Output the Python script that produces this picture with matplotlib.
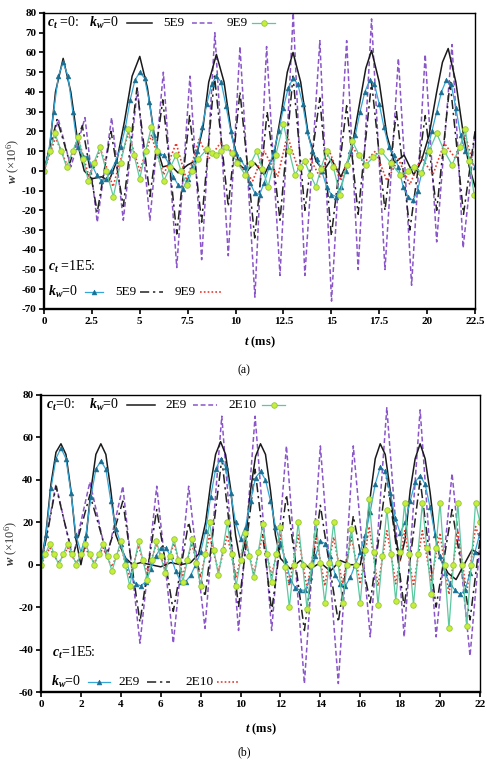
import numpy as np
import matplotlib
matplotlib.use('Agg')
import matplotlib.pyplot as plt
from matplotlib.lines import Line2D

plt.rcParams['font.family'] = ['Liberation Serif', 'DejaVu Serif']
plt.rcParams['mathtext.fontset'] = 'custom'
plt.rcParams['mathtext.rm'] = 'Liberation Serif'
plt.rcParams['mathtext.it'] = 'Liberation Serif:italic'
plt.rcParams['mathtext.bf'] = 'Liberation Serif:italic:bold'

# ---------------- panel (a) ----------------
# ct=0, kw=0 (black solid)
a_t_k0_c0 = [0, 0.3, 0.6, 1.0, 1.4, 1.8, 2.1, 2.5, 3.0, 3.4, 3.8, 4.2, 4.6, 5.0, 5.4, 5.8, 6.2, 6.6, 7.0, 7.5,
             7.9, 8.3, 8.6, 9.0, 9.4, 9.8, 10.2, 10.6, 11.0, 11.5, 12.0, 12.4, 12.7, 13.0, 13.4, 13.8, 14.2, 14.6,
             15.0, 15.5, 16.0, 16.4, 16.8, 17.1, 17.5, 17.9, 18.3, 18.8, 19.3, 19.7, 20.1, 20.5, 20.8, 21.1, 21.5,
             21.9, 22.2, 22.5]
a_w_k0_c0 = [0, 12, 40, 57, 40, 12, 0, -4, -3, -5, 5, 25, 48, 58, 42, 15, 2, 3, -1, 3,
             5, 22, 45, 59, 45, 18, 3, 0, 4, -2, 8, 30, 50, 60, 45, 18, 5, 0,
             6, -3, 8, 30, 52, 61, 45, 18, 4, 8, -2, 5, 18, 40, 55, 62, 45,
             18, 2, -8]

# ct=0, kw=5E9 (purple dashed)
a_t_5e9_c0 = [0, 0.38, 0.75, 1.08, 1.4, 1.77, 2.14, 2.46, 2.78, 3.15, 3.53, 3.84, 4.14, 4.51, 4.88, 5.2, 5.53,
              5.88, 6.23, 6.58, 6.93, 7.28, 7.62, 7.93, 8.23, 8.58, 8.92, 9.27, 9.62, 9.93, 10.23, 10.62, 11.01,
              11.32, 11.62, 11.97, 12.32, 12.67, 13.01, 13.32, 13.62, 14.01, 14.4, 14.7, 15.01, 15.4, 15.8, 16.1,
              16.4, 16.75, 17.1, 17.45, 17.8, 18.15, 18.5, 18.85, 19.19, 19.55, 19.9, 20.2, 20.5, 20.9, 21.3,
              21.6, 21.88, 22.2, 22.5]
a_w_5e9_c0 = [0, 13, 26, 14, 2, 14, 27, 0, -26, 0, 27, 1, -25, 8, 42, 8, -25,
              12, 50, 0, -49, 0, 48, 1, -45, 12, 70, 13, -43, 10, 63, 0, -64,
              0, 63, 5, -53, 13, 80, 13, -53, 6, 66, 0, -66, 0, 66, 8,
              -50, 13, 77, 13, -50, 3, 57, 0, -58, 0, 59, 11, -36, 14, 64,
              12, -39, -10, 20]

# ct=0, kw=9E9 (green circles)
a_t_9e9_c0 = [0, 0.3, 0.57, 0.9, 1.18, 1.5, 1.79, 2.05, 2.31, 2.6, 2.92, 3.25, 3.62, 4.0, 4.4, 4.7, 5.0, 5.3,
              5.6, 5.9, 6.25, 6.6, 6.9, 7.15, 7.45, 7.75, 8.05, 8.5, 8.75, 9.0, 9.25, 9.5, 9.8, 10.1, 10.5, 10.8,
              11.1, 11.4, 11.7, 12.1, 12.5, 12.8, 13.1, 13.35, 13.6, 13.9, 14.2, 14.45, 14.75, 15.1, 15.45, 15.8,
              16.1, 16.45, 16.8, 17.2, 17.6, 18.1, 18.6, 19.0, 19.3, 19.7, 20.1, 20.5, 20.9, 21.3, 21.7, 22.0,
              22.2, 22.45]
a_w_9e9_c0 = [0, 10, 19, 10, 2, 10, 17, 6, -5, 4, 12, 0, -13, 4, 21, 8, -4, 10,
              22, 10, -5, 2, 8, 0, -7, 0, 6, 11, 9, 8, 10, 12, 9, 4, -2, 4,
              10, 1, -8, 8, 24, 10, -2, 2, 5, -2, -8, 1, 10, 2, -12, 3,
              15, 8, 3, 7, 10, 4, -2, 0, 2, -1, 10, 19, 10, 3, 12, 21,
              5, -12]

# ct=1E5, kw=0 (blue triangles), every 0.25 ms
a_w_k0_c1 = [0, 10, 30, 48, 55, 48, 30, 12, 8, 7,
             3, -2, -5, -4, 0, 5, 12, 22, 36, 46,
             50, 47, 35, 18, 9, 8, 4, -3, -7, -9,
             -4, 2, 10, 22, 34, 44, 48, 45, 33, 20,
             9, 6, 2, -6, -11, -12, -6, 2, 10, 20,
             32, 42, 47, 44, 34, 20, 10, 6, 0, -8,
             -12, -13, -8, 0, 10, 18, 30, 40, 46, 44,
             34, 22, 12, 8, 2, -8, -13, -15, -10, 0,
             10, 20, 30, 40, 46, 44, 32, 18, 10, 6,
             2]
a_t_k0_c1 = np.arange(len(a_w_k0_c1)) * 0.25

# ct=1E5, kw=5E9 (black dash-dot)
a_t_5e9_c1 = [0, 0.34, 0.68, 1.02, 1.35, 1.68, 2.0, 2.39, 2.78, 3.14, 3.5, 3.82, 4.14, 4.5, 4.85, 5.19, 5.53,
              5.87, 6.2, 6.57, 6.93, 7.27, 7.6, 7.92, 8.23, 8.57, 8.9, 9.26, 9.62, 9.93, 10.23, 10.62, 11.0,
              11.33, 11.65, 11.99, 12.32, 12.66, 13.0, 13.31, 13.62, 14.01, 14.4, 14.7, 15.0, 15.4, 15.8, 16.1,
              16.4, 16.75, 17.1, 17.45, 17.8, 18.1, 18.4, 18.75, 19.1, 19.5, 19.9, 20.2, 20.5, 20.85, 21.2,
              21.55, 21.9, 22.2, 22.5]
a_w_5e9_c1 = [0, 13, 26, 15, 4, 14, 23, 1, -21, 0, 20, 1, -18, 12, 42, 15, -13,
              12, 36, 2, -32, -2, 28, 1, -26, 11, 48, 15, -18, 11, 40, 3, -34,
              -2, 30, 3, -25, 12, 48, 14, -20, 9, 37, 2, -33, 0, 33, 6,
              -22, 12, 45, 13, -20, 5, 30, 0, -30, -1, 28, 4, -20, 12, 45,
              12, -22, -1, 20]

# ct=1E5, kw=9E9 (red dotted)
a_t_9e9_c1 = [0, 0.6, 1.2, 1.8, 2.35, 2.95, 3.6, 4.4, 5.0, 5.6, 6.25, 6.9, 7.45, 8.1, 8.6, 9.2, 9.8, 10.3,
              10.9, 11.5, 12.2, 12.7, 13.3, 13.9, 14.4, 14.9, 15.5, 16.1, 16.7, 17.3, 17.9, 18.5, 19.1, 19.7,
              20.3, 20.9, 21.5, 22.0, 22.5]
a_w_9e9_c1 = [0, 17, 3, 16, -3, 11, -8, 19, 0, 18, -2, 14, -5, 16, 6, 14, 10, 2,
              -5, 10, -3, 18, 0, 6, -3, 10, -5, 12, 4, 10, -5, 6, -7, 7,
              -2, 14, 6, 18, 0]

a_xticks = [0, 2.5, 5, 7.5, 10, 12.5, 15, 17.5, 20, 22.5]
a_xtick_labels = ['0', '2.5', '5', '7.5', '10', '12.5', '15', '17.5', '20', '22.5']
a_yticks = [-70, -60, -50, -40, -30, -20, -10, 0, 10, 20, 30, 40, 50, 60, 70, 80]

# ---------------- panel (b) ----------------
b_t_k0_c0 = [0, 0.25, 0.5, 0.75, 1.0, 1.25, 1.5, 1.75, 2.0, 2.25, 2.5, 2.75, 3.0, 3.25, 3.5, 3.75, 4.0, 4.25,
             4.6, 5.0, 5.5, 6.0, 6.5, 7.0, 7.5, 7.9, 8.25, 8.5, 8.75, 9.0, 9.25, 9.5, 9.75, 10.0, 10.25, 10.5,
             10.75, 11.0, 11.25, 11.5, 11.75, 12.0, 12.5, 13.0, 13.5, 14.0, 14.5, 15.0, 15.5, 16.0, 16.25,
             16.5, 16.75, 17.0, 17.25, 17.5, 17.75, 18.0, 18.25, 18.5, 18.75, 19.0, 19.25, 19.5, 19.75, 20.0,
             20.4, 20.8, 21.2, 21.6, 22.0]
b_w_k0_c0 = [0, 15, 38, 53, 57, 52, 35, 12, 0, 12, 35, 52, 57, 52, 35, 14, 8, 3,
             0, 1, 0, -1, 1, 0, 1, 5, 20, 38, 52, 58, 52, 36, 14, 1, 12, 35,
             51, 57, 52, 35, 14, 3, -2, 2, -2, 1, -3, 2, 0, 0, 12,
             32, 50, 57, 52, 35, 14, 2, 12, 35, 50, 57, 50, 34, 14, 3,
             -4, -7, 0, 7, 5]

b_t_2e9 = [0, 0.38, 0.75, 1.18, 1.6, 2.02, 2.45, 2.88, 3.3, 3.7, 4.1, 4.53, 4.96, 5.38, 5.8, 6.22, 6.63, 7.02,
           7.4, 7.81, 8.22, 8.64, 9.06, 9.48, 9.9, 10.32, 10.73, 11.15, 11.56, 11.93, 12.3, 12.75, 13.2, 13.6,
           14.0, 14.45, 14.9, 15.28, 15.65, 16.08, 16.5, 16.92, 17.33, 17.77, 18.2, 18.6, 19.0, 19.4, 19.8,
           20.2, 20.6, 21.05, 21.5, 21.75, 22.0]
b_w_2e9_c0 = [0, 19, 38, 20, 3, 21, 39, 21, 3, 20, 37, 0, -37, 0, 37, 0, -37, 0,
              37, 3, -30, 20, 70, 19, -31, 19, 70, 19, -31, 12, 56, 0, -56, 0,
              56, 0, -56, 0, 56, 11, -34, 20, 74, 20, -34, 19, 73, 19, -34,
              4, 43, 0, -43, -16, 10]
b_w_2e9_c1 = [0, 18, 37, 20, 4, 18, 33, 19, 5, 17, 30, 1, -27, 0, 26, 2, -22, -1,
              20, 2, -15, 17, 50, 15, -20, 12, 45, 11, -22, 5, 33, 1, -31, -1,
              28, 0, -27, -2, 23, 2, -18, 12, 42, 11, -20, 10, 40, 10, -20,
              3, 26, 0, -26, -7, 12]

# kw=2E10 series, 100 samples over 0-22 ms
b_w_2e10_c0 = [0, 5, 10, 5, 0, 5, 10, 5, 0, 5, 10, 5, 0, 5, 10, 4, -3, 4, 11, 0,
               -10, 0, 11, 2, -7, 2, 11, 4, -4, 4, 12, 2, -8, 2, 12, 1, -10, 5, 20, 7,
               -5, 7, 20, 5, -10, 2, 15, 4, -6, 6, 19, 5, -8, 5, 18, -1, -20, 0, 20, 0,
               -21, 0, 20, 1, -18, 1, 20, 1, -18, 0, 17, 0, -18, 7, 31, 6, -19, 4, 26, 5,
               -17, 6, 29, 5, -19, 5, 29, 8, -14, 8, 29, 0, -30, 0, 29, 0, -29, 0, 29, 20]
b_w_2e10_c1 = [0, 4, 8, 4, 1, 4, 8, 4, 1, 4, 8, 4, 1, 4, 8, 3, -1, 4, 9, 1,
               -6, 1, 9, 2, -4, 3, 10, 4, -2, 4, 10, 2, -5, 2, 10, 2, -6, 4, 14, 5,
               -3, 5, 14, 4, -6, 3, 13, 4, -4, 5, 14, 4, -5, 4, 14, 2, -10, 2, 14, 1,
               -11, 1, 13, 2, -10, 2, 13, 2, -9, 2, 13, 2, -9, 4, 18, 4, -10, 3, 16, 4,
               -9, 3, 16, 3, -10, 3, 16, 4, -8, 4, 15, 0, -14, 1, 16, 1, -13, 2, 18, 12]
b_t_2e10 = np.linspace(0, 22, len(b_w_2e10_c0))

b_w_k0_c1 = [0, 14, 36, 50, 55, 50, 34, 14, 6, 14,
             32, 45, 49, 45, 30, 17, 10, 2, -5, -9,
             -10, -8, -2, 4, 8, 8, 4, -3, -8, -8,
             -5, 0, 6, 16, 32, 45, 50, 46, 34, 20,
             12, 18, 30, 41, 44, 40, 30, 18, 10, 2,
             -7, -11, -12, -12, -6, 4, 11, 10, 4, -5,
             -9, -10, -6, 0, 6, 14, 25, 38, 46, 44,
             34, 22, 15, 20, 30, 39, 42, 38, 27, 14,
             4, -4, -9, -12, -14, -12, -4, 6, 15]
b_t_k0_c1 = np.arange(len(b_w_k0_c1)) * 0.25

b_xticks = [0, 2, 4, 6, 8, 10, 12, 14, 16, 18, 20, 22]
b_xtick_labels = [str(v) for v in b_xticks]
b_yticks = [-60, -40, -20, 0, 20, 40, 60, 80]

# ---------------- styles ----------------
STY = {
    'k0_c0': dict(color='#1a1a1a', lw=1.1, ls='-'),
    'mid_c0': dict(color='#8a55c9', lw=1.1, ls=(0, (3.2, 1.8))),
    'hi_c0': dict(color='#5cc8a0', lw=0.9, marker='o', ms=4, mfc='#c6ee3a', mec='#93c83a', mew=0.6),
    'k0_c1': dict(color='#35a7d6', lw=0.9, marker='^', ms=3.5, mfc='#1d6f91', mec='#1d6f91', mew=0.4),
    'mid_c1': dict(color='#222222', lw=1.1, ls=(0, (6, 2.5, 1.5, 2.5))),
    'hi_c1': dict(color='#e53b2f', lw=1.2, ls=(0, (1, 1.3))),
}

W, H = 487, 764
fig = plt.figure(figsize=(W / 100, H / 100), dpi=100)


def fx(x):
    return x / W


def fy(y):
    return 1 - y / H


def draw_panel(ax, series, xlim, ylim, xticks, xlabels, yticks):
    for key in ['mid_c0', 'mid_c1', 'k0_c0', 'hi_c1', 'k0_c1', 'hi_c0']:
        t, w = series[key]
        ax.plot(t, w, **STY[key])
    ax.set_xlim(*xlim)
    ax.set_ylim(*ylim)
    ax.set_xticks(xticks)
    ax.set_xticklabels(xlabels, fontweight='bold')
    ax.set_yticks(yticks)
    ax.set_yticklabels([str(v) for v in yticks], fontweight='bold')
    ax.tick_params(direction='out', length=3.5, width=1.2, labelsize=8, pad=2)
    for side in ['left', 'bottom']:
        ax.spines[side].set_linewidth(1.7)
    for side in ['top', 'right']:
        ax.spines[side].set_linewidth(1.0)
    ax.set_xlabel(r'$\mathbf{t}$ (ms)', fontsize=9, fontweight='bold')
    ax.set_ylabel(r'$\mathbf{w}$ (×$\mathrm{10}^{6}$)', fontsize=9, color='#333333')


def sample(x0, x1, y, key):
    st = dict(STY[key])
    marker = st.pop('marker', None)
    ms = st.pop('ms', None)
    mfc = st.pop('mfc', None)
    mec = st.pop('mec', None)
    mew = st.pop('mew', None)
    fig.add_artist(Line2D([fx(x0), fx(x1)], [fy(y), fy(y)], transform=fig.transFigure, **st))
    if marker:
        fig.add_artist(Line2D([fx((x0 + x1) / 2)], [fy(y)], transform=fig.transFigure, ls='none',
                              marker=marker, ms=ms, mfc=mfc, mec=mec, mew=mew))


def label(x, y, s, size=9.5):
    fig.text(fx(x), fy(y), s, fontsize=size, ha='left', va='center')


CT = r'$\mathbf{c}_{\mathbf{t}}$'
KW = r'$\mathbf{k}_{\mathbf{w}}$'

# panel (a)
ax_a = fig.add_axes([fx(44), fy(309), (475 - 44) / W, (309 - 13) / H])
draw_panel(ax_a, {
    'k0_c0': (a_t_k0_c0, a_w_k0_c0), 'mid_c0': (a_t_5e9_c0, a_w_5e9_c0), 'hi_c0': (a_t_9e9_c0, a_w_9e9_c0),
    'k0_c1': (a_t_k0_c1, a_w_k0_c1), 'mid_c1': (a_t_5e9_c1, a_w_5e9_c1), 'hi_c1': (a_t_9e9_c1, a_w_9e9_c1),
}, (0, 22.5), (-70, 80), a_xticks, a_xtick_labels, a_yticks)
ax_a.xaxis.set_label_coords(0.5, -0.085)
ax_a.yaxis.set_label_coords(-0.052, 0.5)

label(47, 23, CT + ' =0:', 10)
label(89, 23, KW + '=0', 10)
sample(127, 152, 23, 'k0_c0')
label(163, 23, '5E9')
sample(192, 215, 23, 'mid_c0')
label(227, 23, '9E9')
sample(252, 275, 23, 'hi_c0')

label(48, 267, CT + ' =1E5:', 10)
label(48, 292, KW + '=0', 10)
sample(85, 103, 292, 'k0_c1')
label(115, 292, '5E9')
sample(140, 163, 292, 'mid_c1')
label(175, 292, '9E9')
sample(200, 222, 292, 'hi_c1')

fig.text(fx(244), fy(370), '(a)', fontsize=8.5, ha='center', va='center')

# panel (b)
ax_b = fig.add_axes([fx(41), fy(692), (480 - 41) / W, (692 - 395) / H])
draw_panel(ax_b, {
    'k0_c0': (b_t_k0_c0, b_w_k0_c0), 'mid_c0': (b_t_2e9, b_w_2e9_c0), 'hi_c0': (b_t_2e10, b_w_2e10_c0),
    'k0_c1': (b_t_k0_c1, b_w_k0_c1), 'mid_c1': (b_t_2e9, b_w_2e9_c1), 'hi_c1': (b_t_2e10, b_w_2e10_c1),
}, (0, 22), (-60, 80), b_xticks, b_xtick_labels, b_yticks)
ax_b.xaxis.set_label_coords(0.5, -0.1)
ax_b.yaxis.set_label_coords(-0.047, 0.5)

label(46, 405, CT + '=0:', 10)
label(89, 405, KW + '=0', 10)
sample(127, 155, 405, 'k0_c0')
label(165, 405, '2E9')
sample(193, 217, 405, 'mid_c0')
label(228, 405, '2E10')
sample(262, 285, 405, 'hi_c0')

label(52, 653, CT + '=1E5:', 10)
label(51, 682, KW + '=0', 10)
sample(88, 110, 682, 'k0_c1')
label(118, 682, '2E9')
sample(147, 170, 682, 'mid_c1')
label(185, 682, '2E10')
sample(217, 238, 682, 'hi_c1')

fig.text(fx(244), fy(752), '(b)', fontsize=8.5, ha='center', va='center')

fig.savefig('out.png', dpi=100)
